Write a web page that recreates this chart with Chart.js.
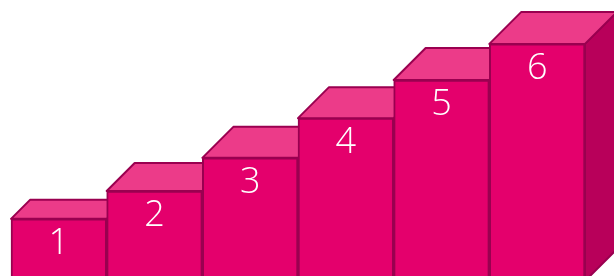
<!DOCTYPE html>
<html>
<head>
<meta charset="utf-8">
<script src="https://cdn.jsdelivr.net/npm/chart.js@4"></script>
<style>
  html, body { margin: 0; padding: 0; background: #fff; }
  #wrap { width: 614px; height: 276px; }
</style>
</head>
<body>
<div id="wrap"><canvas id="steps"></canvas></div>
<script>
// staircase data
const categories = ['1', '2', '3', '4', '5', '6'];
const stepValues = [20.7, 30.8, 42.8, 57.2, 71, 84.1];

// 3d look
const frontColor = '#e4006c';
const topColor = '#ec3b89';
const sideColor = '#b8005a';
const edgeColor = '#9a0050';
const depth = [19, 28, 31, 31, 32, 32];
const sink = 5; // box bottom sits a little below the canvas

const boxPlugin = {
  id: 'boxFaces',
  beforeDatasetsDraw(chart) {
    const ctx = chart.ctx;
    const bars = chart.getDatasetMeta(0).data;
    ctx.save();
    ctx.lineWidth = 2;
    ctx.lineJoin = 'round';
    ctx.strokeStyle = edgeColor;
    bars.forEach((bar, i) => {
      const d = depth[i];
      const left = bar.x - bar.width / 2;
      const right = bar.x + bar.width / 2;
      const top = bar.y;
      const bottom = bar.base + sink;
      // right side
      ctx.beginPath();
      ctx.moveTo(right, top);
      ctx.lineTo(right + d, top - d);
      ctx.lineTo(right + d, bottom - d);
      ctx.lineTo(right, bottom);
      ctx.closePath();
      ctx.fillStyle = sideColor;
      ctx.fill();
      ctx.stroke();
      // top
      ctx.beginPath();
      ctx.moveTo(left, top);
      ctx.lineTo(left + d, top - d);
      ctx.lineTo(right + d, top - d);
      ctx.lineTo(right, top);
      ctx.closePath();
      ctx.fillStyle = topColor;
      ctx.fill();
      ctx.stroke();
    });
    ctx.restore();
  },
  afterDatasetsDraw(chart) {
    const ctx = chart.ctx;
    const bars = chart.getDatasetMeta(0).data;
    ctx.save();
    ctx.fillStyle = '#ffffff';
    ctx.font = '300 36px "Open Sans", "Lato", sans-serif';
    ctx.textAlign = 'center';
    ctx.textBaseline = 'middle';
    bars.forEach((bar, i) => {
      ctx.fillText(categories[i], bar.x, bar.y + 25);
    });
    ctx.restore();
  }
};

new Chart(document.getElementById('steps'), {
  type: 'bar',
  data: {
    labels: categories,
    datasets: [{
      data: stepValues,
      backgroundColor: frontColor,
      borderColor: edgeColor,
      borderWidth: 2,
      borderSkipped: 'start',
      barPercentage: 1,
      categoryPercentage: 1,
      clip: false
    }]
  },
  options: {
    responsive: true,
    maintainAspectRatio: false,
    animation: false,
    layout: { padding: { left: 11, right: 29, top: 0, bottom: 0 } },
    plugins: {
      legend: { display: false },
      tooltip: { enabled: false }
    },
    scales: {
      x: { display: false },
      y: { display: false, min: 0, max: 100 }
    }
  },
  plugins: [boxPlugin]
});
</script>
</body>
</html>
